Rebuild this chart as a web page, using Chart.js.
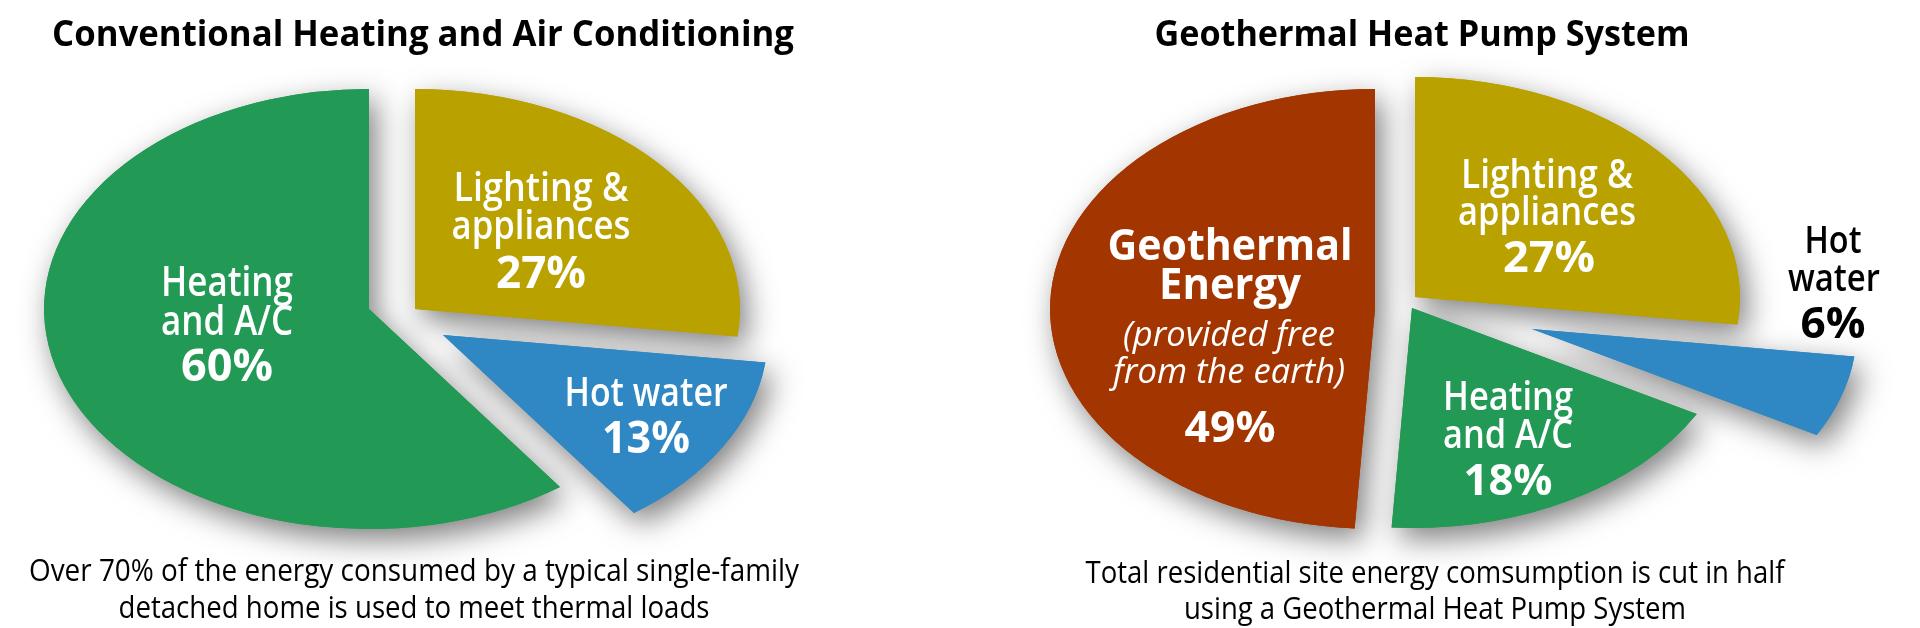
<!DOCTYPE html>
<html><head><meta charset="utf-8">
<script src="https://cdn.jsdelivr.net/npm/chart.js@4.4.0/dist/chart.umd.min.js"></script>
<style>
html,body{margin:0;padding:0;background:#fff;width:1920px;height:628px;overflow:hidden}
.panel{position:absolute;top:0;width:960px;height:628px}
canvas{display:block}
</style></head><body>
<div class="panel" style="left:0"><canvas id="c1" width="960" height="628"></canvas></div>
<div class="panel" style="left:960px"><canvas id="c2" width="960" height="628"></canvas></div>
<script>
// ---- data ----
const convCategories = ['Lighting & appliances', 'Hot water', 'Heating and A/C'];
const convValues = [27, 13, 60];
const geoCategories = ['Lighting & appliances', 'Hot water', 'Heating and A/C', 'Geothermal Energy'];
const geoValues = [27, 6, 18, 49];
const titles = ['Conventional Heating and Air Conditioning', 'Geothermal Heat Pump System'];
const captions = [
  ['Over 70% of the energy consumed by a typical single-family', 'detached home is used to meet thermal loads'],
  ['Total residential site energy comsumption is cut in half', 'using a Geothermal Heat Pump System']
];

// ---- styles ----
const convColors = ['#B9A100', '#2F88C3', '#229A56'];
const geoColors = ['#B9A100', '#2F88C3', '#229A56', '#A33600'];
const pct = v => v + '%';
const FONT = '"Open Sans", "Noto Sans", sans-serif';

const convText = [
  {text: titles[0], x: 423, y: 46, size: 36, weight: 700, color: '#000', w: 742},
  {text: 'Heating', x: 227, y: 296, size: 41, weight: 600, color: '#fff', w: 132},
  {text: 'and A/C', x: 227, y: 335, size: 41, weight: 600, color: '#fff', w: 132},
  {text: pct(convValues[2]), x: 227, y: 381, size: 45, weight: 700, color: '#fff', w: 92},
  {text: 'Lighting &', x: 541, y: 201, size: 40, weight: 600, color: '#fff', w: 175},
  {text: 'appliances', x: 541, y: 239, size: 40, weight: 600, color: '#fff', w: 179},
  {text: pct(convValues[0]), x: 541, y: 288, size: 44, weight: 700, color: '#fff', w: 90},
  {text: convCategories[1], x: 646, y: 406, size: 40, weight: 600, color: '#fff', w: 163},
  {text: pct(convValues[1]), x: 646, y: 453, size: 44, weight: 700, color: '#fff', w: 88},
  {text: captions[0][0], x: 414, y: 581, size: 31, weight: 400, color: '#000', w: 770},
  {text: captions[0][1], x: 414, y: 618, size: 31, weight: 400, color: '#000', w: 591}
];
const geoText = [
  {text: titles[1], x: 1422, y: 46, size: 36, weight: 700, color: '#000', w: 535},
  {text: 'Geothermal', x: 1230, y: 260, size: 43, weight: 700, color: '#fff', w: 245},
  {text: 'Energy', x: 1230, y: 299, size: 43, weight: 700, color: '#fff', w: 142},
  {text: '(provided free', x: 1229, y: 346, size: 34, weight: 400, style: 'italic', color: '#fff', w: 212},
  {text: 'from the earth)', x: 1229, y: 383, size: 34, weight: 400, style: 'italic', color: '#fff', w: 232},
  {text: pct(geoValues[3]), x: 1230, y: 442, size: 43, weight: 700, color: '#fff', w: 91},
  {text: 'Lighting &', x: 1547, y: 188, size: 39, weight: 600, color: '#fff', w: 172},
  {text: 'appliances', x: 1547, y: 225, size: 39, weight: 600, color: '#fff', w: 178},
  {text: pct(geoValues[0]), x: 1549, y: 272, size: 43, weight: 700, color: '#fff', w: 92},
  {text: 'Heating', x: 1508, y: 410, size: 39, weight: 600, color: '#fff', w: 130},
  {text: 'and A/C', x: 1508, y: 448, size: 39, weight: 600, color: '#fff', w: 130},
  {text: pct(geoValues[2]), x: 1508, y: 495, size: 43, weight: 700, color: '#fff', w: 89},
  {text: 'Hot', x: 1833, y: 253, size: 38, weight: 600, color: '#000', w: 57},
  {text: 'water', x: 1834, y: 291, size: 38, weight: 600, color: '#000', w: 92},
  {text: pct(geoValues[1]), x: 1833, y: 338, size: 43, weight: 700, color: '#000', w: 65},
  {text: captions[1][0], x: 1435, y: 583, size: 31, weight: 400, color: '#000', w: 699},
  {text: captions[1][1], x: 1435, y: 619, size: 31, weight: 400, color: '#000', w: 502}
];

// Plugin: draws the library's arc elements stretched into an ellipse, exploded, with drop shadow
const ellipsePie = {
  id: 'ellipsePie',
  beforeDatasetDraw(chart, args, opts) {
    const ctx = chart.ctx;
    const arcs = args.meta.data;
    const pass = (shadow) => {
      arcs.forEach((arc, i) => {
        const d = opts.explode[i] || [0, 0];
        ctx.save();
        if (shadow) {
          ctx.shadowColor = opts.shadowColor;
          ctx.shadowBlur = opts.shadowBlur;
          ctx.shadowOffsetX = opts.shadowX;
          ctx.shadowOffsetY = opts.shadowY;
        }
        ctx.translate(arc.x + d[0], arc.y + d[1]);
        ctx.scale(opts.stretch, 1);
        ctx.translate(-arc.x, -arc.y);
        arc.draw(ctx);
        ctx.restore();
      });
    };
    pass(true);
    pass(false);
    return false;
  },
  afterDraw(chart, args, opts) {
    const ctx = chart.ctx;
    opts.texts.forEach(t => {
      ctx.save();
      ctx.font = `${t.style || 'normal'} ${t.weight} ${t.size}px ${FONT}`;
      ctx.fillStyle = t.color;
      ctx.textAlign = 'center';
      ctx.textBaseline = 'alphabetic';
      const w = ctx.measureText(t.text).width;
      const k = t.w ? t.w / w : 1;
      ctx.translate(t.x - opts.originX, t.y);
      ctx.scale(k, 1);
      ctx.fillText(t.text, 0, 0);
      ctx.restore();
    });
  }
};

function makePie(id, labels, values, colors, padding, explode, texts, originX) {
  return new Chart(document.getElementById(id), {
    type: 'pie',
    data: {labels, datasets: [{data: values, backgroundColor: colors, borderWidth: 0, hoverOffset: 0, clip: false}]},
    options: {
      responsive: false,
      animation: false,
      events: [],
      layout: {padding},
      plugins: {
        legend: {display: false},
        tooltip: {enabled: false},
        title: {display: false},
        ellipsePie: {
          stretch: 1.477,
          explode,
          shadowColor: 'rgba(0,0,0,0.5)',
          shadowBlur: 30,
          shadowX: 7,
          shadowY: 11,
          texts,
          originX
        }
      }
    },
    plugins: [ellipsePie]
  });
}

makePie('c1', convCategories, convValues, convColors,
  {left: 149, right: 371, top: 89, bottom: 99},
  [[46, 0], [74, 26], [0, 0]], convText, 0);
makePie('c2', geoCategories, geoValues, geoColors,
  {left: 195, right: 325, top: 89, bottom: 99},
  [[40, -12], [157, 20], [37, -1], [0, 0]], geoText, 960);
</script>
</body></html>
